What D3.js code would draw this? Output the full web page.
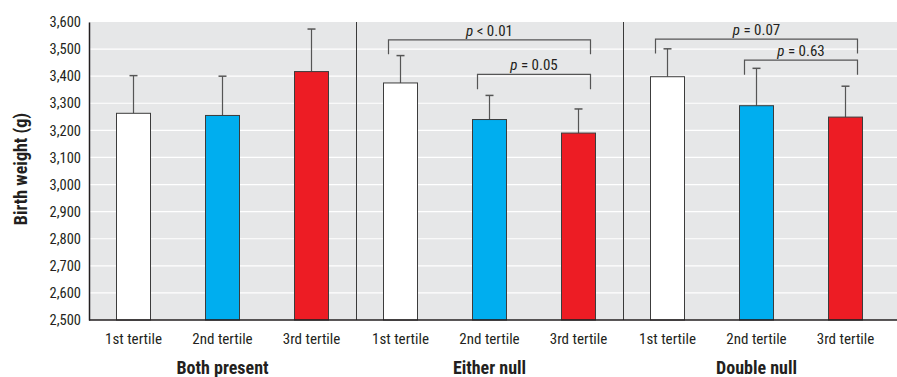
<!DOCTYPE html>
<html><head><meta charset="utf-8">
<script src="https://cdn.jsdelivr.net/npm/d3@7"></script>
<style>
body{margin:0;background:#fff;}
svg{display:block;}
svg text{font-family:"Roboto Condensed",Roboto,sans-serif;font-stretch:condensed;fill:#231f20;}
</style></head>
<body>
<svg id="chart" width="897" height="377"></svg>
<script>
// ---- data ----
const groups = ["Both present", "Either null", "Double null"];
const tertiles = ["1st tertile", "2nd tertile", "3rd tertile"];
const meanBothPresent = [3263, 3255, 3417];
const meanEitherNull  = [3375, 3240, 3190];
const meanDoubleNull  = [3398, 3291, 3249];
const upperBothPresent = [3402, 3400, 3574];
const upperEitherNull  = [3476, 3329, 3279];
const upperDoubleNull  = [3501, 3429, 3363];
const yTicks = [2500, 2600, 2700, 2800, 2900, 3000, 3100, 3200, 3300, 3400, 3500, 3600];
const pLabels   = ["< 0.01", "= 0.05", "= 0.07", "= 0.63"];
const pGroup    = ["Either null", "Either null", "Double null", "Double null"];
const pFrom     = ["1st tertile", "2nd tertile", "1st tertile", "2nd tertile"];
const pTo       = ["3rd tertile", "3rd tertile", "3rd tertile", "3rd tertile"];
const pLevel    = [3534, 3407, 3537, 3459];
const pLegEnd   = [3481, 3352, 3484, 3405];

const means = [meanBothPresent, meanEitherNull, meanDoubleNull];
const uppers = [upperBothPresent, upperEitherNull, upperDoubleNull];
const colors = ["#ffffff", "#00aeef", "#ed1c24"];

const rows = [];
groups.forEach((g, gi) => tertiles.forEach((t, ti) => rows.push({g, t, ti, v: means[gi][ti], u: uppers[gi][ti]})));

const svg = d3.select("#chart");
const L = 89, R = 890, T = 22, B = 320;
const x0 = d3.scaleBand().domain(groups).range([L, R]);
const x1 = d3.scaleBand().domain(tertiles).range([0, x0.bandwidth()]);
const y = d3.scaleLinear().domain([2500, 3600]).range([B, T]);
const barW = 34;
const cx = (g, t) => x0(g) + x1(t) + x1.bandwidth() / 2;

// background
svg.append("rect").attr("x", L).attr("y", T).attr("width", 897 - L).attr("height", B - T).attr("fill", "#e6e7e8");
// gridlines
svg.append("g").selectAll("line").data(yTicks.filter(d => d > 2500 && d < 3600)).join("line")
  .attr("x1", L).attr("x2", 897).attr("y1", d => y(d)).attr("y2", d => y(d))
  .attr("stroke", "#ffffff").attr("stroke-width", 1.2);

// separators
svg.append("g").selectAll("line").data(groups.slice(1)).join("line")
  .attr("x1", d => x0(d) + 0.5).attr("x2", d => x0(d) + 0.5).attr("y1", T).attr("y2", B)
  .attr("stroke", "#3a3a3a").attr("stroke-width", 1);

// error bars
const eb = svg.append("g").attr("stroke", "#555").attr("stroke-width", 1.2);
eb.selectAll("line.v").data(rows).join("line").attr("class", "v")
  .attr("x1", d => cx(d.g, d.t)).attr("x2", d => cx(d.g, d.t))
  .attr("y1", d => y(d.v)).attr("y2", d => y(d.u));
eb.selectAll("line.c").data(rows).join("line").attr("class", "c")
  .attr("x1", d => cx(d.g, d.t) - 4).attr("x2", d => cx(d.g, d.t) + 4)
  .attr("y1", d => y(d.u)).attr("y2", d => y(d.u)).attr("stroke-width", 1.5);

// bars
svg.append("g").selectAll("rect").data(rows).join("rect")
  .attr("x", d => cx(d.g, d.t) - barW / 2).attr("width", barW)
  .attr("y", d => y(d.v)).attr("height", d => B - y(d.v))
  .attr("fill", d => colors[d.ti]).attr("stroke", "#3c3c3c").attr("stroke-width", 1);

// axes
const yAxis = svg.append("g").attr("transform", `translate(${L},0)`)
  .call(d3.axisLeft(y).tickValues(yTicks).tickFormat(d3.format(",")).tickSize(0).tickPadding(8));
yAxis.select(".domain").attr("stroke", "#231f20").attr("stroke-width", 1.5);
yAxis.selectAll("text").attr("font-size", 14.5).attr("fill", "#231f20")
  .style("font-family", "'Roboto Condensed',Roboto,sans-serif");

svg.append("line").attr("x1", L).attr("x2", 897).attr("y1", B).attr("y2", B)
  .attr("stroke", "#231f20").attr("stroke-width", 1.5);

// x tick labels
svg.append("g").selectAll("text").data(rows).join("text")
  .attr("x", d => cx(d.g, d.t)).attr("y", 344).attr("text-anchor", "middle")
  .attr("font-size", 15).text(d => d.t);

// group labels
svg.append("g").selectAll("text").data(groups).join("text")
  .attr("x", d => x0(d) + x0.bandwidth() / 2).attr("y", 374).attr("text-anchor", "middle")
  .attr("font-size", 18).attr("font-weight", "bold").text(d => d);

// y title
svg.append("text").attr("transform", `translate(27,169) rotate(-90)`)
  .attr("text-anchor", "middle").attr("font-size", 18).attr("font-weight", "bold")
  .text("Birth weight (g)");

// significance brackets
const br = svg.append("g");
pLabels.forEach((lab, i) => {
  const xa = cx(pGroup[i], pFrom[i]) - 12, xb = cx(pGroup[i], pTo[i]) + 12;
  const yl = y(pLevel[i]), ye = y(pLegEnd[i]);
  br.append("path").attr("d", `M${xa},${ye}V${yl}H${xb}V${ye}`)
    .attr("fill", "none").attr("stroke", "#555").attr("stroke-width", 1.2);
  const t = br.append("text").attr("x", (xa + xb) / 2).attr("y", yl - 4)
    .attr("text-anchor", "middle").attr("font-size", 15);
  t.append("tspan").attr("font-style", "italic").text("p");
  t.append("tspan").text(" " + lab);
});
</script>
</body></html>
